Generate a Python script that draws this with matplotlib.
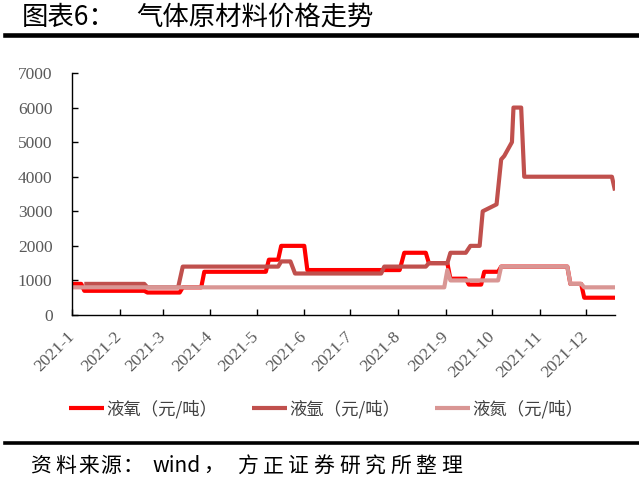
import matplotlib
matplotlib.use("Agg")
import matplotlib.pyplot as plt
import numpy as np
from matplotlib.lines import Line2D

plt.rcParams['font.family'] = ['Noto Sans CJK SC', 'DejaVu Sans']

# ---- data (change points) ----
o2_dates = ["2021-01-01", "2021-01-07", "2021-01-09", "2021-02-17", "2021-02-19", "2021-03-12",
            "2021-03-14", "2021-03-26", "2021-03-28", "2021-05-07", "2021-05-09", "2021-05-15",
            "2021-05-17", "2021-06-01", "2021-06-03", "2021-08-02", "2021-08-05", "2021-08-19",
            "2021-08-21", "2021-09-02", "2021-09-04", "2021-09-14", "2021-09-16", "2021-09-24",
            "2021-09-26", "2021-10-05", "2021-10-07", "2021-11-19", "2021-11-21", "2021-11-28",
            "2021-11-30", "2021-12-20"]
o2_values = [900, 900, 700, 700, 650, 650,
             800, 800, 1250, 1250, 1600, 1600,
             2000, 2000, 1300, 1300, 1800, 1800,
             1500, 1500, 1050, 1050, 880, 880,
             1250, 1250, 1400, 1400, 900, 900,
             500, 500]

ar_dates = ["2021-01-09", "2021-02-17", "2021-02-19", "2021-03-11", "2021-03-14", "2021-05-15",
            "2021-05-17", "2021-05-23", "2021-05-26", "2021-07-21", "2021-07-23", "2021-08-19",
            "2021-08-21", "2021-09-02", "2021-09-04", "2021-09-14", "2021-09-17", "2021-09-23",
            "2021-09-24", "2021-09-25", "2021-10-04", "2021-10-07", "2021-10-09", "2021-10-14",
            "2021-10-15", "2021-10-20", "2021-10-22", "2021-12-18", "2021-12-20"]
ar_values = [900, 900, 800, 800, 1400, 1400,
             1550, 1550, 1200, 1200, 1400, 1400,
             1500, 1500, 1800, 1800, 2000, 2000,
             2500, 3000, 3200, 4500, 4600, 5000,
             6000, 6000, 4000, 4000, 3600]

n2_dates = ["2021-01-01", "2021-08-31", "2021-09-02", "2021-09-04", "2021-10-05", "2021-10-07",
            "2021-11-19", "2021-11-21", "2021-11-28", "2021-11-30", "2021-12-20"]
n2_values = [800, 800, 1300, 1000, 1000, 1400,
             1400, 900, 900, 800, 800]

series_names = ["液氧（元/吨）", "液氩（元/吨）", "液氮（元/吨）"]
series_colors = ["#FF0000", "#C0504D", "#D99694"]
month_ticks = ["2021-%02d-01" % m for m in range(1, 13)]
month_labels = ["2021-%d" % m for m in range(1, 13)]
y_ticks = [0, 1000, 2000, 3000, 4000, 5000, 6000, 7000]

title_prefix = "图表6："
title_main = "气体原材料价格走势"
source_parts = ["资", "料", "来", "源", "：", "wind", "，", "方", "正", "证", "券", "研", "究", "所", "整", "理"]

# ---- figure ----
W, H = 639, 484
fig = plt.figure(figsize=(W / 100, H / 100), dpi=100)

def fx(px):
    return px / W

def fy(py):
    return 1 - py / H

ax = fig.add_axes([fx(72), fy(315), fx(615) - fx(72), fy(73) - fy(315)])

data = [(o2_dates, o2_values), (ar_dates, ar_values), (n2_dates, n2_values)]
for (d, v), name, c in zip(data, series_names, series_colors):
    ax.plot(np.array(d, dtype="datetime64[D]"), v, color=c, lw=3.0, label=name,
            solid_joinstyle="round", solid_capstyle="butt")

ax.set_xlim(np.datetime64("2021-01-01"), np.datetime64("2021-12-20"))
ax.set_ylim(0, 7000)
ax.set_yticks(y_ticks)
ax.set_yticklabels([str(t) for t in y_ticks], family="Liberation Serif", fontsize=12.5, color="#595959")
ax.set_xticks(np.array(month_ticks, dtype="datetime64[D]"))
ax.set_xticklabels(month_labels, family="Liberation Serif", fontsize=12.5, color="#595959",
                   rotation=45, ha="right", va="center", rotation_mode="anchor")
ax.tick_params(axis="both", direction="in", length=4, width=1, color="black")
ax.tick_params(axis="y", pad=14)
ax.tick_params(axis="x", pad=14)
for s in ["top", "right"]:
    ax.spines[s].set_visible(False)
for s in ["left", "bottom"]:
    ax.spines[s].set_color("black")
    ax.spines[s].set_linewidth(1)

# legend
fig.legend(loc="center", bbox_to_anchor=(fx(326), fy(409)), ncol=3, frameon=False,
           handlelength=2.0, handletextpad=0.15, columnspacing=2.0,
           prop={"family": ["Noto Sans CJK SC", "DejaVu Sans"], "size": 12.5},
           labelcolor="#404040")

# title, rules, source
fig.text(fx(22), fy(17), title_prefix, fontsize=19, color="black", ha="left", va="center")
fig.text(fx(136), fy(17), title_main, fontsize=19, color="black", ha="left", va="center")
fig.add_artist(Line2D([fx(5), 1], [fy(35), fy(35)], color="black", lw=3.3))
fig.add_artist(Line2D([fx(5), 1], [fy(443), fy(443)], color="black", lw=2.6))

src_x = [30, 55, 78, 100, 122, 152, 203, 237, 262.5, 288, 313.5, 339, 364.5, 390, 415.5, 441]
for s, x in zip(source_parts, src_x):
    fig.text(fx(x), fy(466), s, fontsize=15, color="black", ha="left", va="center",
             family=["Noto Sans CJK SC", "DejaVu Sans"])

fig.savefig("out.png", dpi=100)
